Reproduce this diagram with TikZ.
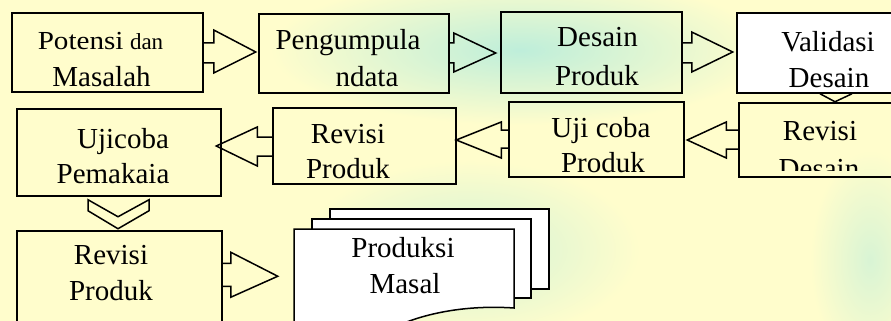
\documentclass[tikz,border=0pt]{standalone}
\usepackage{fontspec}
\setmainfont{Liberation Serif}
\usetikzlibrary{calc}
\definecolor{bgyellow}{RGB}{255,253,204}
\definecolor{wmteal}{RGB}{190,238,218}
\tikzset{
  stage/.style={draw=black, line width=1.5pt, inner sep=0pt, rectangle},
  conn/.style={draw=black, line width=1.5pt, line join=miter},
  lbl/.style={inner sep=0pt, anchor=base, font=\fontsize{29}{35}\selectfont},
  sheet/.style={draw=black, line width=1.5pt, fill=white, line join=miter},
}
\begin{document}
\begin{tikzpicture}[x=1pt,y=-1pt]
\fill[bgyellow] (0,0) rectangle (891,321);
\useasboundingbox (0,0) rectangle (891,321);
\clip (0,0) rectangle (891,321);

% faint watermark tint in the background
\shade[inner color=wmteal, outer color=bgyellow] (520,50) ellipse [x radius=250pt, y radius=75pt];
\shade[inner color=wmteal!70!bgyellow, outer color=bgyellow] (470,250) ellipse [x radius=170pt, y radius=90pt];
\shade[inner color=wmteal!60!bgyellow, outer color=bgyellow] (870,260) ellipse [x radius=60pt, y radius=110pt];

% ---------- first row ----------
\node[stage, minimum width=191pt, minimum height=79pt] (b1) at (107.5,52.5) {};
\node[stage, minimum width=190pt, minimum height=79pt] (b2) at (354,53.5) {};
\node[stage, minimum width=181pt, minimum height=81pt] (b3) at (591.5,52.5) {};
\node[stage, fill=white, minimum width=183pt, minimum height=80pt] (b4) at (828.5,53) {};

% ---------- second row ----------
\node[stage, minimum width=204pt, minimum height=87pt] (c1) at (119,152.5) {};
\node[stage, minimum width=183pt, minimum height=76pt] (c2) at (364.5,146) {};
\node[stage, minimum width=175pt, minimum height=75pt] (c3) at (596.5,139.5) {};
\node[stage, minimum width=181pt, minimum height=74pt] (c4) at (829.5,140) {};

% ---------- third row ----------
\node[stage, minimum width=205pt, minimum height=114pt] (d1) at (119.5,288) {};

% stacked documents
\draw[sheet] (330,209) rectangle (549,289);
\draw[sheet] (312,219) rectangle (531,298);
\draw[sheet] (294,229) coordinate (d2) -- (514,229) -- (514,308)
  .. controls (470,305) and (432,312) .. (404,323)
  .. controls (370,336) and (330,340) .. (294,334) -- cycle;

% ---------- block arrows ----------
\draw[conn] ($(b1.east)+(0,-9.5)$) -- ++(10,0) -- ++(0,-13) -- ++(42,22)
  -- ++(-42,21) -- ++(0,-10) -- ++(-10,0);
\draw[conn] ($(b2.east)+(0,-10.5)$) -- ++(4,0) -- ++(0,-10) -- ++(42,20)
  -- ++(-42,19) -- ++(0,-9) -- ++(-4,0);
\draw[conn] ($(b3.east)+(0,-9.5)$) -- ++(9,0) -- ++(0,-11) -- ++(41,20)
  -- ++(-41,20) -- ++(0,-9) -- ++(-9,0);
\draw[conn] ($(b4.south)+(-8.5,0)$) -- ++(15,8) -- ++(17,-8);
\draw[conn] ($(c4.west)+(0,-10)$) -- ++(-12,0) -- ++(0,-8) -- ++(-39,18)
  -- ++(39,18) -- ++(0,-9) -- ++(12,0);
\draw[conn] ($(c3.west)+(0,-9.5)$) -- ++(-7,0) -- ++(0,-8) -- ++(-45,18)
  -- ++(45,18) -- ++(0,-10) -- ++(7,0);
\draw[conn] ($(c2.west)+(0,-9)$) -- ++(-15,0) -- ++(0,-10) -- ++(-41,19)
  -- ++(41,20) -- ++(0,-10) -- ++(15,0);
\draw[conn] ($(c1.south)+(-31,3)$) -- ++(0,11) -- ++(30,18) -- ++(31,-18)
  -- ++(0,-11) -- ++(-31,17) -- cycle;
\draw[conn] ($(d1.north east)+(0,33)$) -- ++(8,0) -- ++(0,-11) -- ++(47,24)
  -- ++(-47,21) -- ++(0,-11) -- ++(-8,0);

% ---------- labels ----------
\node[lbl, font=\fontsize{26}{30}\selectfont] (t1a) at (100.5,49)
  {\scalebox{1.12}[1]{Potensi} {\fontsize{23}{27}\selectfont dan}};
\node[lbl] (t1b) at (101.5,86) {Masalah};
\node[lbl] (t2a) at (348,49) {Pengumpula};
\node[lbl] (t2b) at (367,86) {ndata};
\node[lbl] (t3a) at (597.5,47) {Desain};
\node[lbl] (t3b) at (597,85) {Produk};
\node[lbl] (t4a) at (828,52) {Validasi};
\node[lbl] (t4b) at (829,87) {Desain};

\node[lbl] (t5a) at (123,148) {Ujicoba};
\node[lbl] (t5b) at (113,183) {Pemakaia};
\node[lbl] (t6a) at (348,143) {Revisi};
\node[lbl] (t6b) at (348,178) {Produk};
\node[lbl] (t7a) at (601,137) {Uji coba};
\node[lbl] (t7b) at (603,172) {Produk};
\node[lbl] (t8a) at (820,140) {Revisi};
\begin{scope}
  \clip (739,103) rectangle (891,170);
  \node[lbl] (t8b) at (819,178) {Desain};
\end{scope}

\node[lbl] (t9a) at (111,264) {Revisi};
\node[lbl] (t9b) at (111,300) {Produk};
\node[lbl] (t10a) at (403,257) {Produksi};
\node[lbl] (t10b) at (405,293) {Masal};
\end{tikzpicture}
\end{document}
